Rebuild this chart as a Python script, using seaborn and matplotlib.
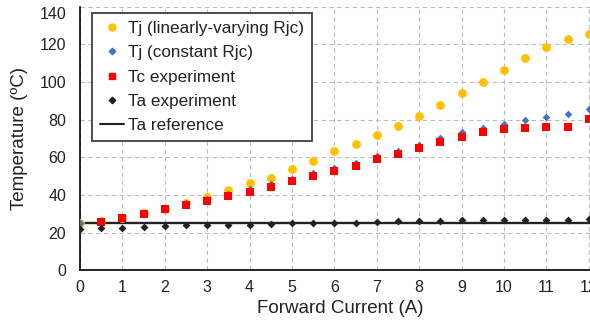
import numpy as np
import pandas as pd
import seaborn as sns
import matplotlib
matplotlib.use("Agg")
from matplotlib import pyplot as plt
from matplotlib.lines import Line2D

# forward current steps (A)
current = [0, 0.5, 1, 1.5, 2, 2.5, 3, 3.5, 4, 4.5, 5, 5.5, 6,
           6.5, 7, 7.5, 8, 8.5, 9, 9.5, 10, 10.5, 11, 11.5, 12]

tj_linear = [25.2, 26.3, 27.7, 30.7, 32.8, 36.0, 39.2, 42.8, 46.5, 49.3, 53.9, 58.2, 63.1,
             67.2, 71.9, 76.6, 81.8, 87.8, 94.2, 99.8, 106.4, 112.6, 118.5, 122.6, 125.4]
tj_const = [25.0, 26.0, 27.9, 30.5, 33.0, 35.6, 38.0, 40.6, 43.0, 45.6, 48.6, 51.6, 54.6,
            57.2, 60.6, 63.2, 66.8, 70.2, 73.2, 75.8, 77.8, 79.8, 81.6, 83.0, 85.6]
tc_exp = [None, 25.7, 27.7, 30.0, 32.7, 34.8, 36.8, 39.4, 41.5, 44.2, 47.5, 50.2, 52.9,
          55.5, 59.3, 61.9, 65.1, 67.9, 71.0, 73.6, 75.2, 75.6, 76.3, 76.3, 80.5]
ta_exp = [22.0, 22.6, 22.4, 23.0, 23.4, 24.0, 24.0, 24.0, 24.0, 24.7, 25.0, 25.2, 25.2,
          25.4, 25.9, 26.0, 26.2, 26.3, 26.6, 26.6, 26.6, 26.8, 27.0, 27.0, 27.4]
ta_ref = 25

xticks = list(range(0, 13))
yticks = list(range(0, 141, 20))

df = pd.DataFrame({"I": current, "tj_lin": tj_linear, "tj_c": tj_const,
                   "tc": tc_exp, "ta": ta_exp})

sns.set_theme(style="whitegrid", rc={
    "grid.linestyle": (0, (4, 3)),
    "grid.color": "#bcbcbc",
    "grid.linewidth": 0.8,
    "axes.edgecolor": "black",
    "axes.linewidth": 1.2,
})
plt.rcParams["font.family"] = ["Liberation Sans", "DejaVu Sans"]

fig = plt.figure(figsize=(5.9, 3.27), dpi=100)
ax = fig.add_axes([0.1356, 0.173, 0.8644, 0.807])

c_yel, c_blu, c_red, c_blk = "#FFC000", "#4472C4", "#FF0000", "#222222"
txt = "#222222"

ax.axhline(ta_ref, color=c_blk, lw=1.7, zorder=2)
sns.scatterplot(data=df, x="I", y="tj_lin", ax=ax, color=c_yel, marker="o",
                s=40, linewidth=0, zorder=3)
sns.scatterplot(data=df, x="I", y="tj_c", ax=ax, color=c_blu, marker="D",
                s=15, linewidth=0, zorder=4)
sns.scatterplot(data=df.dropna(), x="I", y="tc", ax=ax, color=c_red, marker="s",
                s=31, linewidth=0, zorder=5)
sns.scatterplot(data=df, x="I", y="ta", ax=ax, color=c_blk, marker="D",
                s=16, linewidth=0, zorder=6)

ax.set_xlim(0, 12.03)
ax.set_ylim(0, 140)
ax.set_xticks(xticks)
ax.set_yticks(yticks)
ax.tick_params(axis="both", labelsize=11.5, length=0, colors=txt)
ax.tick_params(axis="x", pad=7)
ax.tick_params(axis="y", pad=10)
for lbl in ax.get_yticklabels():
    if lbl.get_text() == "140":
        lbl.set_verticalalignment("top")

ax.set_xlabel("Forward Current (A)", fontsize=13.5, color=txt)
ax.xaxis.set_label_coords(0.51, -0.112)
ax.set_ylabel("Temperature (ºC)", fontsize=13.5, color=txt, va="center")
ax.yaxis.set_label_coords(-0.118, 0.5)
for s in ["top", "right"]:
    ax.spines[s].set_visible(False)
ax.grid(True, axis="both")

handles = [
    Line2D([], [], ls="", marker="o", color=c_yel, markersize=5),
    Line2D([], [], ls="", marker="D", color=c_blu, markersize=3.3),
    Line2D([], [], ls="", marker="s", color=c_red, markersize=5),
    Line2D([], [], ls="", marker="D", color=c_blk, markersize=3.3),
    Line2D([], [], color=c_blk, lw=1.5),
]
labels = ["Tj (linearly-varying Rjc)", "Tj (constant Rjc)", "Tc experiment",
          "Ta experiment", "Ta reference"]
leg = ax.legend(handles, labels, loc="upper left", bbox_to_anchor=(0.0235, 0.975),
                borderaxespad=0, fontsize=12.3, frameon=True, fancybox=False,
                framealpha=1, edgecolor="#404040", handlelength=1.4,
                handletextpad=0.25, labelspacing=0.55, borderpad=0.45)
leg.get_frame().set_linewidth(1.3)
for t in leg.get_texts():
    t.set_color(txt)

fig.savefig("out.png", dpi=100)
